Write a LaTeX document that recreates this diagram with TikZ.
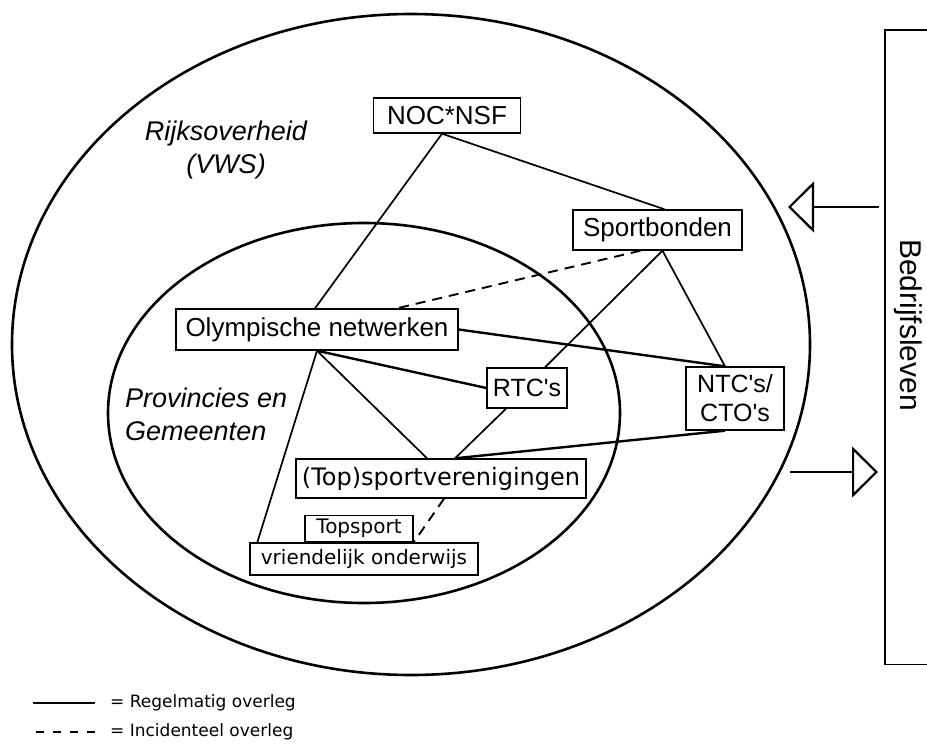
\documentclass[tikz,border=0pt]{standalone}
\usepackage{fontspec}
\setmainfont{Liberation Sans}
\newfontfamily\verdana{DejaVu Sans}
\usetikzlibrary{positioning, arrows.meta, shapes.geometric}

\begin{document}
\begin{tikzpicture}[
		x=1pt, y=-1pt,
		>={Triangle[open, length=26pt, width=51pt]},
		ring/.style={draw, ellipse, line width=2.6pt, inner sep=0pt},
		actor/.style={draw, line width=1.4pt, fill=white, inner sep=0pt, font=\fontsize{26}{30}\selectfont},
		small actor/.style={actor, font=\verdana\fontsize{20}{24}\selectfont},
		region/.style={inner sep=0pt, font=\fontsize{27}{33}\selectfont\itshape},
		link/.style={line width=1.7pt},
		heavy/.style={line width=2.4pt},
		maybe/.style={line width=1.9pt, dash pattern=on 10pt off 7pt},
		legend/.style={inner sep=0pt, anchor=west, font=\verdana\fontsize{17}{20}\selectfont},
		feed/.style={->, line width=2.2pt}
		]
		\useasboundingbox (0,0) rectangle (927,744);
		
		% ==========================================
		% 1. LEVELS OF GOVERNMENT
		% ==========================================
		
		\node[ring, minimum width=798pt, minimum height=661pt] (rijk) at (411,344.5) {};
		\node[ring, minimum width=512pt, minimum height=380pt] (prov) at (364,413) {};
		
		\node[region, align=center] (rijklbl) at (226,150) {Rijksoverheid\\(VWS)};
		\node[region, align=left, anchor=west] (provlbl) at (125,414) {Provincies en\\Gemeenten};
		
		% ==========================================
		% 2. ORGANISATIONS
		% ==========================================
		
		\node[actor, minimum width=147pt, minimum height=35pt] (noc) at (447,115.5) {NOC*NSF};
		\node[actor, minimum width=169pt, minimum height=40pt] (bond) at (657.5,230) {Sportbonden};
		\node[actor, minimum width=282pt, minimum height=41pt] (olymp) at (317,329.5) {Olympische netwerken};
		\node[actor, minimum width=80pt, minimum height=40pt, font=\fontsize{25}{30}\selectfont] (rtc) at (527,388) {RTC\textquotesingle s};
		\node[actor, minimum width=98pt, minimum height=63pt, align=center, font=\fontsize{25}{29}\selectfont] (ntc) at (735,398.5) {NTC\textquotesingle s/\\CTO\textquotesingle s};
		\node[small actor, minimum width=290pt, minimum height=39pt, font=\verdana\fontsize{24}{28}\selectfont] (club) at (441,478.5) {(Top)sportverenigingen};
		\node[small actor, minimum width=228pt, minimum height=32pt] (vriend) at (364,559) {vriendelijk onderwijs};
		\node[small actor, minimum width=108pt, minimum height=26pt, above=0pt of vriend, xshift=-5pt] (topsp) {Topsport};
		
		% Regular consultation
		\draw[link] ([xshift=-5pt]noc.south) -- ([xshift=-2pt]olymp.north);
		\draw[link] ([xshift=-5pt]noc.south) -- ([xshift=7pt]bond.north);
		\draw[link] ([xshift=5pt]bond.south) -- ([xshift=18pt]rtc.north);
		\draw[link] ([xshift=5pt]bond.south) -- ([xshift=-10pt]ntc.north);
		\draw[link, heavy] (olymp.east) -- ([xshift=-10pt]ntc.north);
		\draw[link, heavy] (olymp.south) -- (rtc.west);
		\draw[link] (olymp.south) -- ([xshift=-14pt]club.north);
		\draw[link] (olymp.south) -- ([xshift=8pt]vriend.north west);
		\draw[link] ([xshift=-21pt]rtc.south) -- ([xshift=14pt]club.north);
		\draw[link, heavy] ([xshift=-10pt]ntc.south) -- ([xshift=14pt]club.north);
		
		% Incidental consultation
		\draw[maybe] ([xshift=-17pt]bond.south) -- ([xshift=80pt]olymp.north);
		\draw[maybe] ([xshift=3pt]club.south) -- (topsp.south east);
		
		% ==========================================
		% 3. BUSINESS
		% ==========================================
		
		\node[minimum width=42pt, minimum height=634pt, inner sep=0pt] (bed) at (906,347) {};
		\draw[line width=1.4pt] (bed.north east) -- (bed.north west) -- (bed.south west) -- (bed.south east);
		\node[rotate=-90, inner sep=0pt, font=\fontsize{30}{34}\selectfont] (bedlbl) at (908,325) {Bedrijfsleven};
		
		\coordinate (inTail) at (879,207);
		\coordinate (inTip) at (788,207);
		\coordinate (outTail) at (790,472);
		\coordinate (outTip) at (878,472);
		\draw[feed] (inTail) -- (inTip);
		\draw[feed] (outTail) -- (outTip);
		
		% ==========================================
		% 4. LEGEND
		% ==========================================
		
		\node[legend] (regel) at (110,703) {= Regelmatig overleg};
		\node[legend] (incid) at (110,732) {= Incidenteel overleg};
		\draw[line width=2.4pt] (regel.west) ++(-15,0) -- ++(-62,0);
		\draw[line width=2.4pt, dash pattern=on 8pt off 9pt] (incid.west) ++(-15,0) -- ++(-62,0);
		
	\end{tikzpicture}
\end{document}
